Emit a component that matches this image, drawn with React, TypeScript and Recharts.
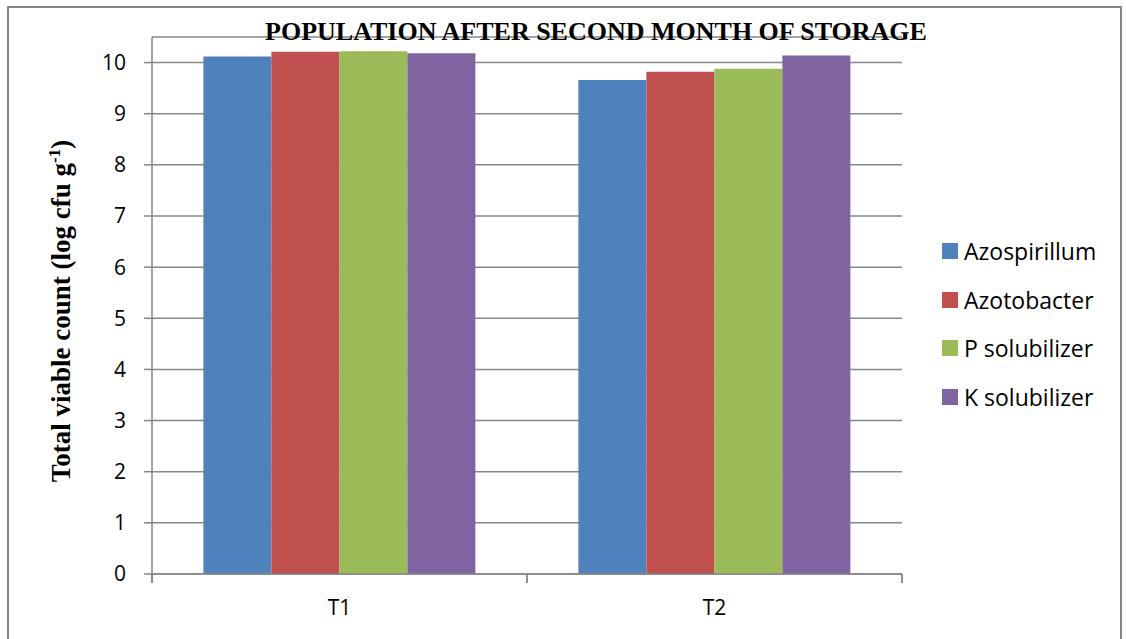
import React from 'react';
import { Bar, BarChart, CartesianGrid, XAxis, YAxis } from 'recharts';

const CATEGORIES = ['T1', 'T2'];
const AZOSPIRILLUM = [10.12, 9.66];
const AZOTOBACTER = [10.21, 9.82];
const P_SOLUBILIZER = [10.22, 9.88];
const K_SOLUBILIZER = [10.18, 10.14];
const Y_TICKS = [0, 1, 2, 3, 4, 5, 6, 7, 8, 9, 10];
const EDGE_TICKS = [0, 1, 2];

const SERIES = [
  { key: 'azospirillum', name: 'Azospirillum', values: AZOSPIRILLUM, color: '#4F81BD' },
  { key: 'azotobacter', name: 'Azotobacter', values: AZOTOBACTER, color: '#C0504D' },
  { key: 'pSolubilizer', name: 'P solubilizer', values: P_SOLUBILIZER, color: '#9BBB59' },
  { key: 'kSolubilizer', name: 'K solubilizer', values: K_SOLUBILIZER, color: '#8064A2' },
];

const data = CATEGORIES.map((name, i) => {
  const row: Record<string, string | number> = { name };
  SERIES.forEach(s => {
    row[s.key] = s.values[i];
  });
  return row;
});

const AXIS_COLOR = '#878787';
const SANS = '"Open Sans", sans-serif';
const SERIF = '"Liberation Serif", "Times New Roman", serif';
const X_TICK_SIZE = 6;
const X_TICK_MARGIN = 20;

const Legend = () => (
  <div style={{ position: 'absolute', left: 933, top: 219, fontFamily: SANS, fontSize: 23 }}>
    {SERIES.map(s => (
      <div key={s.key} style={{ display: 'flex', alignItems: 'center', height: 48.5 }}>
        <div style={{ width: 16, height: 16, background: s.color, marginRight: 6 }} />
        <span style={{ color: '#000' }}>{s.name}</span>
      </div>
    ))}
  </div>
);

// boundary tick marks between categories (Excel style)
const EdgeTick = (props: any) => {
  const { x, y } = props;
  return (
    <g>
      <line x1={x} x2={x} y1={y - 1} y2={y + 8} stroke={AXIS_COLOR} strokeWidth={1.8} />
    </g>
  );
};

// category label + tick mark on the left edge of each band
const CategoryTick = (props: any) => {
  const { x, y, payload } = props;
  const half = payload && payload.offset ? payload.offset : 0;
  const axisY = y - X_TICK_SIZE - X_TICK_MARGIN;
  return (
    <g>
      {half > 0 && (
        <line
          x1={x - half}
          x2={x - half}
          y1={axisY}
          y2={axisY + 9}
          stroke={AXIS_COLOR}
          strokeWidth={1.8}
        />
      )}
      <text
        x={x}
        y={y}
        dy="0.71em"
        textAnchor="middle"
        fill="#000"
        fontSize={21}
        fontFamily={SANS}
      >
        {payload.value}
      </text>
    </g>
  );
};

export default function App() {
  return (
    <div>
      <div
        style={{
          position: 'absolute',
          left: 7,
          top: 6,
          width: 1111,
          height: 633,
          borderTop: `2px solid ${AXIS_COLOR}`,
          borderLeft: `2px solid ${AXIS_COLOR}`,
          borderRight: `2px solid ${AXIS_COLOR}`,
          background: '#fff',
        }}
      >
        <BarChart
          width={1111}
          height={623}
          data={data}
          margin={{ top: 29, right: 218, left: 0, bottom: 55 }}
          barCategoryGap="13.7%"
          barGap={0}
        >
          <CartesianGrid vertical={false} stroke={AXIS_COLOR} strokeWidth={1.5} />
          <XAxis
            dataKey="name"
            height={1}
            axisLine={{ stroke: AXIS_COLOR, strokeWidth: 1.5 }}
            tickLine={false}
            tickSize={X_TICK_SIZE}
            tickMargin={X_TICK_MARGIN}
            tick={<CategoryTick />}
          />
          <XAxis
            xAxisId="edge"
            type="number"
            domain={[0, CATEGORIES.length]}
            ticks={EDGE_TICKS}
            interval={0}
            minTickGap={0}
            height={1}
            axisLine={false}
            tickLine={false}
            tickSize={0}
            tickMargin={0}
            tick={<EdgeTick />}
          />
          <YAxis
            width={143}
            domain={[0, 10.5]}
            ticks={Y_TICKS}
            interval={0}
            axisLine={{ stroke: AXIS_COLOR, strokeWidth: 1.5 }}
            tickLine={{ stroke: AXIS_COLOR, strokeWidth: 1.5 }}
            tickSize={8}
            tickMargin={18}
            tick={{ fill: '#000', fontSize: 21, fontFamily: SANS }}
          />
          {SERIES.map(s => (
            <Bar key={s.key} dataKey={s.key} name={s.name} fill={s.color} isAnimationActive={false} />
          ))}
          <text
            x={587}
            y={32}
            textAnchor="middle"
            fontFamily={SERIF}
            fontWeight="bold"
            fontSize={26}
            fill="#000"
          >
            POPULATION AFTER SECOND MONTH OF STORAGE
          </text>
          <text
            transform="translate(61, 303) rotate(-90)"
            textAnchor="middle"
            fontFamily={SERIF}
            fontWeight="bold"
            fontSize={27}
            fill="#000"
          >
            Total viable count (log cfu g
            <tspan dy={-10} fontSize={17}>-1</tspan>
            <tspan dy={10}>)</tspan>
          </text>
        </BarChart>
        <Legend />
      </div>
    </div>
  );
}
